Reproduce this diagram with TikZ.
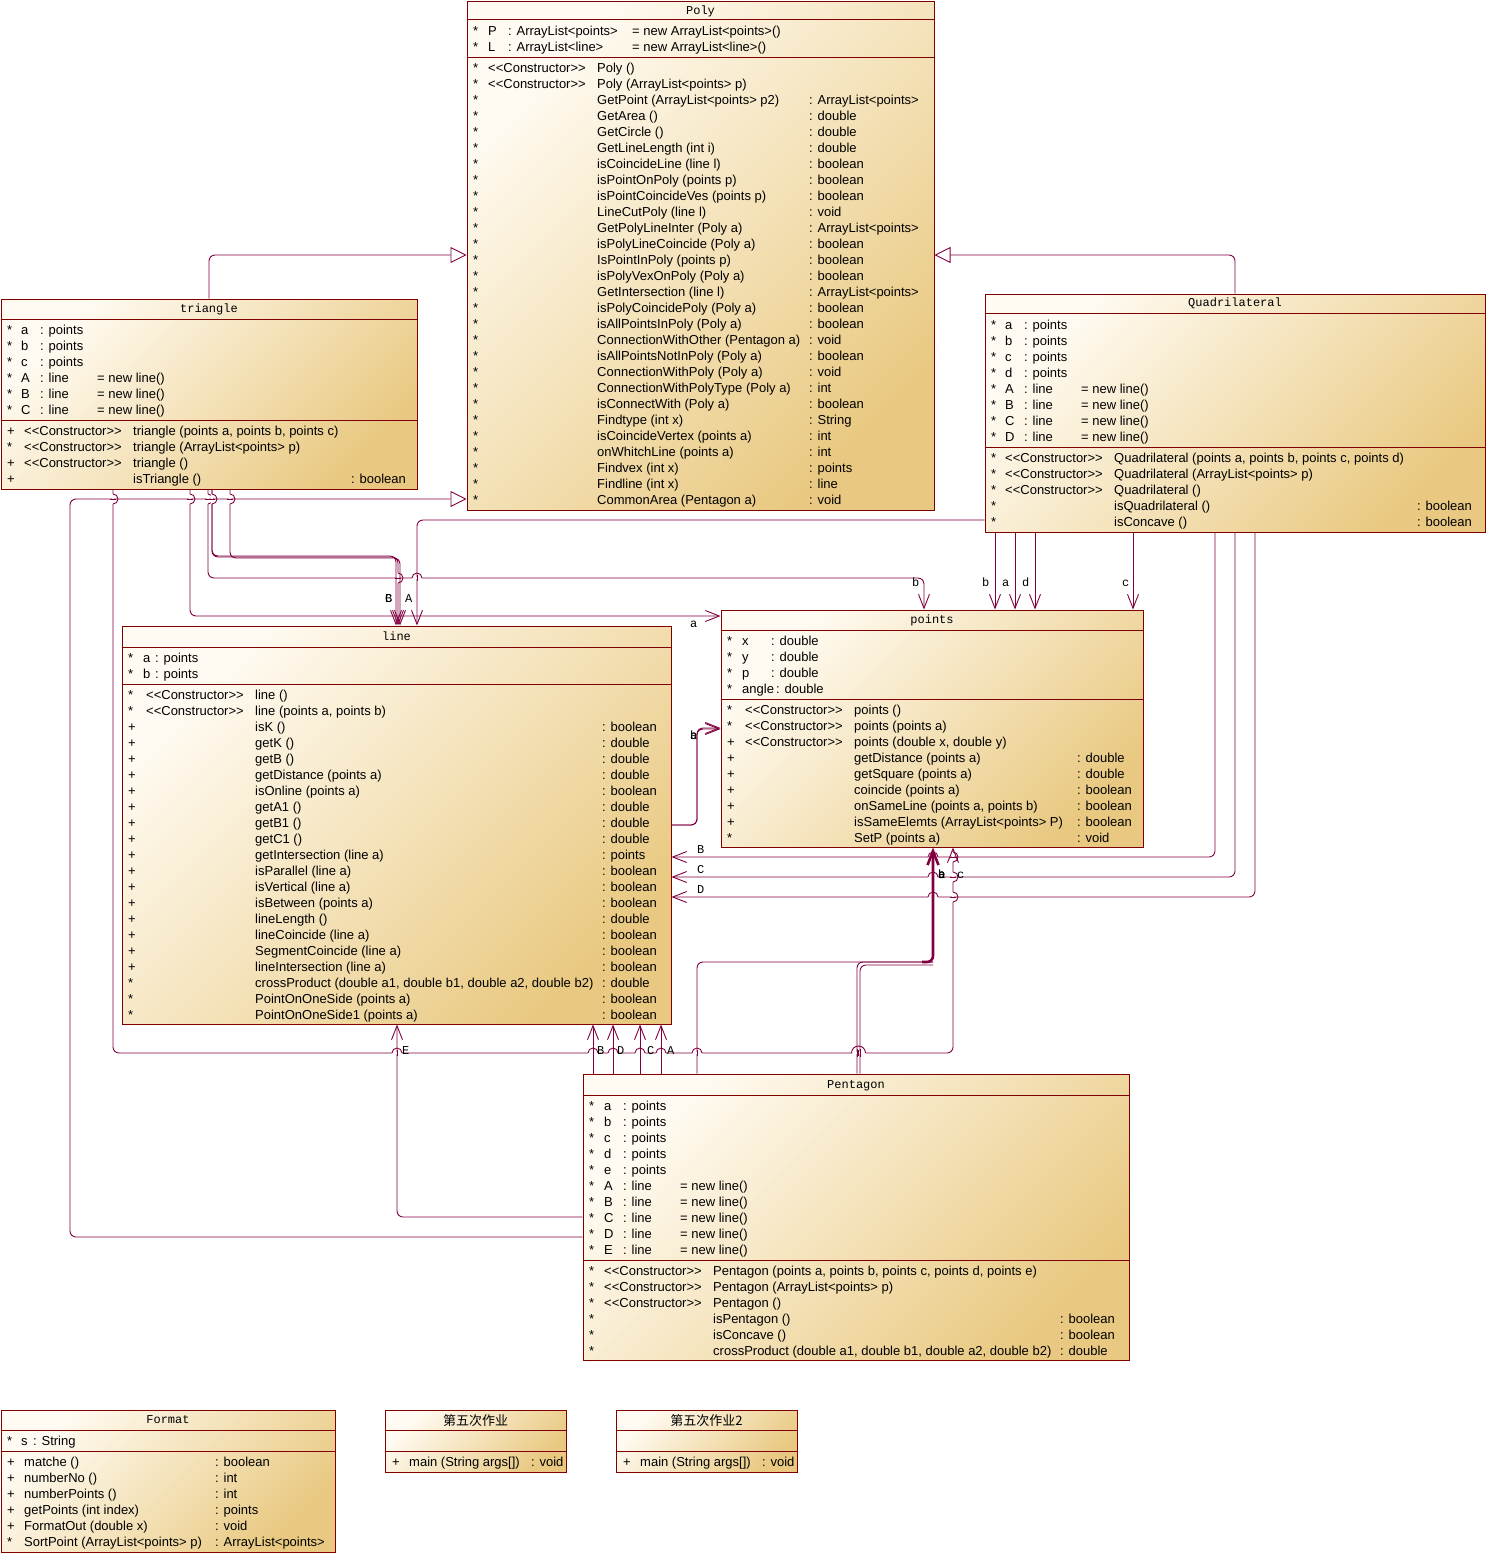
\documentclass[tikz,border=0pt]{standalone}
\usepackage{fontspec}
\setmainfont{Liberation Sans}
\newfontfamily\monofont{Liberation Mono}
\newfontfamily\cjkfont{Noto Sans CJK SC}
\usetikzlibrary{arrows.meta}
\definecolor{boxred}{HTML}{800000}
\definecolor{linkred}{HTML}{800040}
\definecolor{fillhi}{HTML}{FFFBF2}
\definecolor{filllo}{HTML}{E9C981}
\newcommand{\rowfont}{\fontsize{13}{16}\selectfont}
\newcommand{\ctor}{<{}<Constructor>{}>}
% crossing hops
\newcommand{\hoph}[3][5]{%
  \draw[white, line width=2.4pt] ({#2-#1},#3) -- ({#2+#1},#3);
  \draw[link] (#2,{#3-3}) -- (#2,{#3+3});
  \draw[link] ({#2-#1},#3) arc[start angle=180, end angle=360, radius=#1];}
\newcommand{\hopv}[3][5]{%
  \draw[white, line width=2.4pt] (#2,{#3-#1}) -- (#2,{#3+#1});
  \draw[link] ({#2-3},#3) -- ({#2+3},#3);
  \draw[link] (#2,{#3-#1}) arc[start angle=-90, end angle=90, radius=#1];}

\begin{document}
\begin{tikzpicture}[x=1pt, y=-1pt]
\tikzstyle{classbox} = [draw=boxred, line width=1pt, top color=fillhi, bottom color=filllo,
                        shading angle=45, inner sep=0pt]
\tikzstyle{divider} = [draw=boxred, line width=1pt]
\tikzstyle{clstitle} = [anchor=base, inner sep=0pt, font=\monofont\fontsize{12}{14}\selectfont]
\tikzstyle{txt} = [anchor=base west, inner sep=0pt, font=\rowfont]
\tikzstyle{lbl} = [anchor=base west, inner sep=0pt, font=\monofont\fontsize{12}{14}\selectfont]
\tikzstyle{link} = [draw=linkred, line width=0.9pt, rounded corners=6pt]
\tikzstyle{assoc} = [link, -{Straight Barb[length=14pt,width=11pt]}]
\tikzstyle{gen} = [link, -{Triangle[open,length=16pt,width=16pt,fill=white]}]
\useasboundingbox (0,0) rectangle (1486,1553);

% classes
\node[classbox, minimum width=467pt, minimum height=509pt] (poly) at (700.5,255.5) {};
\node[classbox, minimum width=416pt, minimum height=190pt] (tri) at (209,394) {};
\node[classbox, minimum width=500pt, minimum height=238pt] (quad) at (1235,413) {};
\node[classbox, minimum width=422pt, minimum height=237pt] (pts) at (932,728.5) {};
\node[classbox, minimum width=549pt, minimum height=398pt] (lin) at (396.5,825) {};
\node[classbox, minimum width=546pt, minimum height=286pt] (pent) at (856,1217) {};
\node[classbox, minimum width=334pt, minimum height=142pt] (fmt) at (168,1481) {};
\node[classbox, minimum width=181pt, minimum height=62pt] (hw) at (475.5,1441) {};
\node[classbox, minimum width=181pt, minimum height=62pt] (hwtwo) at (706.5,1441) {};
\foreach \cls/\ya/\yb in {poly/19/57, tri/319/420, quad/313/447, pts/630/699, lin/647/684,
                          pent/1095/1260, fmt/1430/1451, hw/1430/1451, hwtwo/1430/1451}
  \draw[divider] (\cls.west |- 0,\ya) -- (\cls.east |- 0,\ya) (\cls.west |- 0,\yb) -- (\cls.east |- 0,\yb);

\node[clstitle] (poly-t) at (poly.north |- 0,14) {Poly};
\node[clstitle] (tri-t) at (tri.north |- 0,312) {triangle};
\node[clstitle] (quad-t) at (quad.north |- 0,306) {Quadrilateral};
\node[clstitle] (pts-t) at (pts.north |- 0,623) {points};
\node[clstitle] (lin-t) at (lin.north |- 0,640) {line};
\node[clstitle] (pent-t) at (pent.north |- 0,1088) {Pentagon};
\node[clstitle] (fmt-t) at (fmt.north |- 0,1423) {Format};
\node[clstitle, font=\cjkfont\fontsize{13}{15}\selectfont] (hw-t) at (hw.north |- 0,1425) {第五次作业};
\node[clstitle, font=\cjkfont\fontsize{13}{15}\selectfont] (hwtwo-t) at (hwtwo.north |- 0,1425) {第五次作业2};

% Poly
\foreach \vis/\nm/\ty/\dflt [count=\i] in {*/P/: ArrayList<points>/= new ArrayList<points>(),
                                           */L/: ArrayList<line>/= new ArrayList<line>()} {
  \node[txt] (poly-a\i-v) at (473,{35+16*(\i-1)}) {\vis};
  \node[txt] (poly-a\i) at (488,{35+16*(\i-1)}) {\nm};
  \node[txt] (poly-a\i-t) at (508,{35+16*(\i-1)}) {\ty};
  \node[txt] (poly-a\i-d) at (632,{35+16*(\i-1)}) {\dflt};
}
\foreach \vis/\st/\nm/\ret [count=\i] in {*/\ctor/Poly ()/, */\ctor/Poly (ArrayList<points> p)/,
    *//GetPoint (ArrayList<points> p2)/: ArrayList<points>, *//GetArea ()/: double,
    *//GetCircle ()/: double, *//GetLineLength (int i)/: double,
    *//isCoincideLine (line l)/: boolean, *//isPointOnPoly (points p)/: boolean,
    *//isPointCoincideVes (points p)/: boolean, *//LineCutPoly (line l)/: void,
    *//GetPolyLineInter (Poly a)/: ArrayList<points>, *//isPolyLineCoincide (Poly a)/: boolean,
    *//IsPointInPoly (points p)/: boolean, *//isPolyVexOnPoly (Poly a)/: boolean,
    *//GetIntersection (line l)/: ArrayList<points>, *//isPolyCoincidePoly (Poly a)/: boolean,
    *//isAllPointsInPoly (Poly a)/: boolean, *//ConnectionWithOther (Pentagon a)/: void,
    *//isAllPointsNotInPoly (Poly a)/: boolean, *//ConnectionWithPoly (Poly a)/: void,
    *//ConnectionWithPolyType (Poly a)/: int, *//isConnectWith (Poly a)/: boolean,
    *//Findtype (int x)/: String, *//isCoincideVertex (points a)/: int,
    *//onWhitchLine (points a)/: int, *//Findvex (int x)/: points,
    *//Findline (int x)/: line, *//CommonArea (Pentagon a)/: void} {
  \node[txt] (poly-m\i-v) at (473,{72+16*(\i-1)}) {\vis};
  \node[txt] (poly-m\i-s) at (488,{72+16*(\i-1)}) {\st};
  \node[txt] (poly-m\i) at (597,{72+16*(\i-1)}) {\nm};
  \node[txt] (poly-m\i-r) at (809,{72+16*(\i-1)}) {\ret};
}

% triangle
\foreach \vis/\nm/\ty/\dflt [count=\i] in {*/a/: points/, */b/: points/, */c/: points/,
    */A/: line/= new line(), */B/: line/= new line(), */C/: line/= new line()} {
  \node[txt] (tri-a\i-v) at (7,{334+16*(\i-1)}) {\vis};
  \node[txt] (tri-a\i) at (21,{334+16*(\i-1)}) {\nm};
  \node[txt] (tri-a\i-t) at (40,{334+16*(\i-1)}) {\ty};
  \node[txt] (tri-a\i-d) at (97,{334+16*(\i-1)}) {\dflt};
}
\foreach \vis/\st/\nm/\ret [count=\i] in {+/\ctor/{triangle (points a, points b, points c)}/,
    */\ctor/triangle (ArrayList<points> p)/, +/\ctor/triangle ()/, +//isTriangle ()/: boolean} {
  \node[txt] (tri-m\i-v) at (7,{435+16*(\i-1)}) {\vis};
  \node[txt] (tri-m\i-s) at (24,{435+16*(\i-1)}) {\st};
  \node[txt] (tri-m\i) at (133,{435+16*(\i-1)}) {\nm};
  \node[txt] (tri-m\i-r) at (351,{435+16*(\i-1)}) {\ret};
}

% Quadrilateral
\foreach \vis/\nm/\ty/\dflt [count=\i] in {*/a/: points/, */b/: points/, */c/: points/, */d/: points/,
    */A/: line/= new line(), */B/: line/= new line(), */C/: line/= new line(), */D/: line/= new line()} {
  \node[txt] (quad-a\i-v) at (991,{329+16*(\i-1)}) {\vis};
  \node[txt] (quad-a\i) at (1005,{329+16*(\i-1)}) {\nm};
  \node[txt] (quad-a\i-t) at (1024,{329+16*(\i-1)}) {\ty};
  \node[txt] (quad-a\i-d) at (1081,{329+16*(\i-1)}) {\dflt};
}
\foreach \vis/\st/\nm/\ret [count=\i] in {*/\ctor/{Quadrilateral (points a, points b, points c, points d)}/,
    */\ctor/Quadrilateral (ArrayList<points> p)/, */\ctor/Quadrilateral ()/,
    *//isQuadrilateral ()/: boolean, *//isConcave ()/: boolean} {
  \node[txt] (quad-m\i-v) at (991,{462+16*(\i-1)}) {\vis};
  \node[txt] (quad-m\i-s) at (1005,{462+16*(\i-1)}) {\st};
  \node[txt] (quad-m\i) at (1114,{462+16*(\i-1)}) {\nm};
  \node[txt] (quad-m\i-r) at (1417,{462+16*(\i-1)}) {\ret};
}

% points
\foreach \vis/\nm/\ty/\tx [count=\i] in {*/x/: double/771, */y/: double/771, */p/: double/771,
                                         */angle/: double/776} {
  \node[txt] (pts-a\i-v) at (727,{645+16*(\i-1)}) {\vis};
  \node[txt] (pts-a\i) at (742,{645+16*(\i-1)}) {\nm};
  \node[txt] (pts-a\i-t) at (\tx,{645+16*(\i-1)}) {\ty};
}
\foreach \vis/\st/\nm/\ret [count=\i] in {*/\ctor/points ()/, */\ctor/points (points a)/,
    +/\ctor/{points (double x, double y)}/, +//getDistance (points a)/: double,
    +//getSquare (points a)/: double, +//coincide (points a)/: boolean,
    +//{onSameLine (points a, points b)}/: boolean, +//isSameElemts (ArrayList<points> P)/: boolean,
    *//SetP (points a)/: void} {
  \node[txt] (pts-m\i-v) at (727,{714+16*(\i-1)}) {\vis};
  \node[txt] (pts-m\i-s) at (745,{714+16*(\i-1)}) {\st};
  \node[txt] (pts-m\i) at (854,{714+16*(\i-1)}) {\nm};
  \node[txt] (pts-m\i-r) at (1077,{714+16*(\i-1)}) {\ret};
}

% line
\foreach \vis/\nm/\ty [count=\i] in {*/a/: points, */b/: points} {
  \node[txt] (lin-a\i-v) at (128,{662+16*(\i-1)}) {\vis};
  \node[txt] (lin-a\i) at (143,{662+16*(\i-1)}) {\nm};
  \node[txt] (lin-a\i-t) at (155,{662+16*(\i-1)}) {\ty};
}
\foreach \vis/\st/\nm/\ret [count=\i] in {*/\ctor/line ()/, */\ctor/{line (points a, points b)}/,
    +//isK ()/: boolean, +//getK ()/: double, +//getB ()/: double,
    +//getDistance (points a)/: double, +//isOnline (points a)/: boolean,
    +//getA1 ()/: double, +//getB1 ()/: double, +//getC1 ()/: double,
    +//getIntersection (line a)/: points, +//isParallel (line a)/: boolean,
    +//isVertical (line a)/: boolean, +//isBetween (points a)/: boolean,
    +//lineLength ()/: double, +//lineCoincide (line a)/: boolean,
    +//SegmentCoincide (line a)/: boolean, +//lineIntersection (line a)/: boolean,
    *//{crossProduct (double a1, double b1, double a2, double b2)}/: double,
    *//PointOnOneSide (points a)/: boolean, *//PointOnOneSide1 (points a)/: boolean} {
  \node[txt] (lin-m\i-v) at (128,{699+16*(\i-1)}) {\vis};
  \node[txt] (lin-m\i-s) at (146,{699+16*(\i-1)}) {\st};
  \node[txt] (lin-m\i) at (255,{699+16*(\i-1)}) {\nm};
  \node[txt] (lin-m\i-r) at (602,{699+16*(\i-1)}) {\ret};
}

% Pentagon
\foreach \vis/\nm/\ty/\dflt [count=\i] in {*/a/: points/, */b/: points/, */c/: points/, */d/: points/,
    */e/: points/, */A/: line/= new line(), */B/: line/= new line(), */C/: line/= new line(),
    */D/: line/= new line(), */E/: line/= new line()} {
  \node[txt] (pent-a\i-v) at (589,{1110+16*(\i-1)}) {\vis};
  \node[txt] (pent-a\i) at (604,{1110+16*(\i-1)}) {\nm};
  \node[txt] (pent-a\i-t) at (623,{1110+16*(\i-1)}) {\ty};
  \node[txt] (pent-a\i-d) at (680,{1110+16*(\i-1)}) {\dflt};
}
\foreach \vis/\st/\nm/\ret [count=\i] in {*/\ctor/{Pentagon (points a, points b, points c, points d, points e)}/,
    */\ctor/Pentagon (ArrayList<points> p)/, */\ctor/Pentagon ()/,
    *//isPentagon ()/: boolean, *//isConcave ()/: boolean,
    *//{crossProduct (double a1, double b1, double a2, double b2)}/: double} {
  \node[txt] (pent-m\i-v) at (589,{1275+16*(\i-1)}) {\vis};
  \node[txt] (pent-m\i-s) at (604,{1275+16*(\i-1)}) {\st};
  \node[txt] (pent-m\i) at (713,{1275+16*(\i-1)}) {\nm};
  \node[txt] (pent-m\i-r) at (1060,{1275+16*(\i-1)}) {\ret};
}

% Format and main classes
\node[txt] (fmt-a1-v) at (7,1445) {*};
\node[txt] (fmt-a1) at (21,1445) {s};
\node[txt] (fmt-a1-t) at (33,1445) {: String};
\foreach \vis/\nm/\ret [count=\i] in {+/matche ()/: boolean, +/numberNo ()/: int,
    +/numberPoints ()/: int, +/getPoints (int index)/: points, +/FormatOut (double x)/: void,
    */SortPoint (ArrayList<points> p)/: ArrayList<points>} {
  \node[txt] (fmt-m\i-v) at (7,{1466+16*(\i-1)}) {\vis};
  \node[txt] (fmt-m\i) at (24,{1466+16*(\i-1)}) {\nm};
  \node[txt] (fmt-m\i-r) at (215,{1466+16*(\i-1)}) {\ret};
}
\node[txt] (hw-m1-v) at (392,1466) {+};
\node[txt] (hw-m1) at (409,1466) {main (String args[])};
\node[txt] (hw-m1-r) at (531,1466) {: void};
\node[txt] (hwtwo-m1-v) at (623,1466) {+};
\node[txt] (hwtwo-m1) at (640,1466) {main (String args[])};
\node[txt] (hwtwo-m1-r) at (762,1466) {: void};

% generalization
\draw[gen] (tri.north) |- (poly.west |- 0,255);
\draw[gen] (quad.north) |- (poly.east |- 0,255);
\draw[gen] (pent.west |- 0,1237) -| (70,499) -- (poly.west |- 0,499);

% associations
\draw[assoc] (tri.south -| 190,0) |- (pts.west |- 0,616);
\draw[assoc] (tri.south -| 208,0) |- (924,578) -- (pts.north -| 924,0);
\draw[assoc] (tri.south -| 113,0) |- (953,1053) -- (pts.south -| 953,0);
\draw[assoc] (tri.south -| 212,0) |- (396,556) -- (lin.north -| 396,0);
\draw[assoc] (tri.south -| 212,0) |- (398,557) -- (lin.north -| 398,0);
\draw[assoc] (tri.south -| 230,0) |- (400,558) -- (lin.north -| 400,0);
\draw[assoc] (quad.west |- 0,520) -| (lin.north -| 417,0);
\draw[assoc] (quad.south -| 1215,0) |- (lin.east |- 0,857);
\draw[assoc] (quad.south -| 1235,0) |- (lin.east |- 0,877);
\draw[assoc] (quad.south -| 1255,0) |- (lin.east |- 0,897);
\foreach \x in {995,1015,1035,1133}
  \draw[assoc] (quad.south -| \x,0) -- (pts.north -| \x,0);
\draw[assoc] (lin.east |- 0,825) -| (697,728) -- (pts.west |- 0,728);
\draw[assoc] (lin.east |- 0,825) -| (697,729) -- (pts.west |- 0,729);
\draw[assoc] (pent.west |- 0,1217) -| (lin.south -| 397,0);
\foreach \x in {593,613,640,661}
  \draw[assoc] (pent.north -| \x,0) -- (lin.south -| \x,0);
\draw[link] (pent.north -| 697,0) |- (933,962);
\draw[link] (pent.north -| 857,0) |- (933,962);
\draw[link] (pent.north -| 860,0) |- (933,965);

% hops
\foreach \x in {113,190,208,212,230} \hopv{\x}{499};
\hopv{398}{578}
\hoph{417}{578}
\foreach \x in {397,593,613,640,661,697} \hoph{\x}{1053};
\hoph[7]{858.5}{1053}
\draw[link] (857,1049) -- (857,1057) (860,1049) -- (860,1057);
\foreach \y in {857,877,897} {\hoph{933}{\y} \hopv{953}{\y}}
\draw[assoc, line width=2.6pt] (922,962) -| (pts.south -| 933,0);

% role labels
\node[lbl] (r-tri-a) at (690,627) {a};
\node[lbl] (r-tri-b) at (912,586) {b};
\node[lbl] (r-quad-b) at (982,586) {b};
\node[lbl] (r-quad-a) at (1002,586) {a};
\node[lbl] (r-quad-d) at (1022,586) {d};
\node[lbl] (r-quad-c) at (1122,586) {c};
\node[lbl] (r-tri-B) at (385,602) {B};
\node[lbl] (r-tri-C) at (385,602) {C};
\node[lbl] (r-quad-A) at (405,602) {A};
\node[lbl] (r-lin-a) at (690,739) {a};
\node[lbl] (r-lin-b) at (690,739) {b};
\node[lbl] (r-quad-B) at (697,853) {B};
\node[lbl] (r-quad-C) at (697,873) {C};
\node[lbl] (r-quad-D) at (697,893) {D};
\node[lbl] (r-pent-a) at (938,878) {a};
\node[lbl] (r-pent-b) at (938,878) {b};
\node[lbl] (r-pent-e) at (938,878) {e};
\node[lbl] (r-tri-c) at (957,878) {c};
\node[lbl] (r-pent-E) at (402,1054) {E};
\node[lbl] (r-pent-B) at (597,1054) {B};
\node[lbl] (r-pent-D) at (617,1054) {D};
\node[lbl] (r-pent-C) at (647,1054) {C};
\node[lbl] (r-pent-A) at (667,1054) {A};
\end{tikzpicture}
\end{document}
